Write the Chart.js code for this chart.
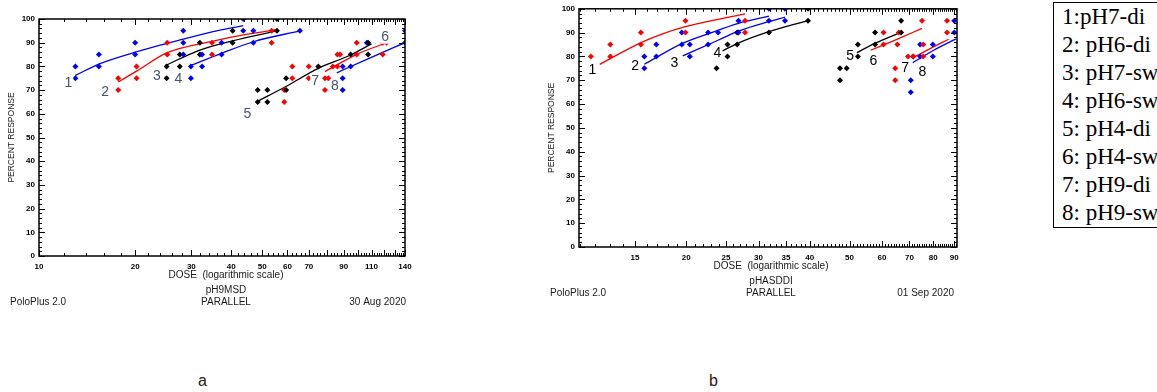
<!DOCTYPE html>
<html>
<head>
<meta charset="utf-8">
<script src="https://cdn.jsdelivr.net/npm/chart.js@4.4.1/dist/chart.umd.min.js"></script>
<style>
  body { margin: 0; background: #fff; width: 1157px; height: 392px; position: relative; overflow: hidden; }
  #chartA { position: absolute; left: 0; top: 0; }
  #chartB { position: absolute; left: 530px; top: 0; }
  .key { position: absolute; left: 1053px; top: 2px; width: 130px; border: 1px solid #000;
         padding: 0 0 0 8px; font: 23px/28px "Liberation Serif", "Times New Roman", serif; color: #000; white-space: nowrap; }
  .cap { position: absolute; top: 372px; font: 16px "Liberation Sans", Arial, sans-serif; color: #222; }
</style>
</head>
<body>
<canvas id="chartA" width="420" height="320"></canvas>
<canvas id="chartB" width="440" height="310"></canvas>
<div class="key">
  <div>1:pH7-di</div><div>2: pH6-di</div><div>3: pH7-sw</div><div>4: pH6-sw</div>
  <div>5: pH4-di</div><div>6: pH4-sw</div><div>7: pH9-di</div><div>8: pH9-sw</div>
</div>
<div class="cap" style="left:198px">a</div>
<div class="cap" style="left:709px">b</div>
<script>
const BLUE = '#0000ff', RED = '#ff0000', BLACK = '#000000';

// ---- panel a (pH9MSD): [dose, percent response] ----
const xTicksA = [10, 20, 30, 40, 50, 60, 70, 90, 110, 140];
const dotsA1 = [[13, 75], [13, 80], [15.4, 80], [15.4, 85], [20, 85], [20, 90], [28.3, 85], [28.3, 90], [28.3, 95], [43.6, 95], [43.6, 100]];
const dotsA2 = [[17.7, 70], [17.7, 75], [20.2, 75], [20.2, 80], [25.2, 85], [25.2, 90], [34.8, 85], [34.8, 90], [53.5, 90], [53.5, 95]];
const dotsA3 = [[25.1, 75], [25.1, 80], [27.6, 80], [27.6, 85], [31.9, 85], [31.9, 90], [40.4, 90], [40.4, 95], [55.6, 95], [55.6, 100]];
const dotsA4 = [[29.9, 75], [29.9, 80], [32.4, 80], [32.4, 85], [37.3, 85], [37.3, 90], [46.9, 90], [46.9, 95], [65.6, 95]];
const dotsA5 = [[48.4, 65], [48.4, 70], [51.9, 65], [51.9, 70], [59.4, 70], [59.4, 75], [74.9, 80], [94.6, 85], [107.3, 85], [107.3, 90]];
const dotsA67 = [[58.6, 65], [58.6, 70], [62.1, 75], [62.1, 80], [69.9, 75], [69.9, 80], [78.6, 70], [78.6, 75], [80.5, 75], [83.2, 80],
                 [86, 80], [86, 85], [87.6, 85], [98.8, 85], [98.8, 90], [119.2, 85], [119.2, 90], [122.6, 90]];
const dotsA8 = [[89.3, 70], [89.3, 75], [89.3, 80], [94.6, 80], [106.3, 90], [140, 90], [140, 95]];
const fitA1 = [[13, 76.2], [15.4, 81], [20, 86], [28.3, 91.5], [36, 95], [43.6, 97.2]];
const fitA2 = [[17.7, 73.4], [20.2, 78], [25.2, 85.8], [34.8, 90.6], [45, 93.6], [55.6, 95.5]];
const fitA3 = [[24.8, 80.3], [31.9, 86.9], [40.4, 90.8], [55.6, 95]];
const fitA4 = [[29.7, 80.3], [37.3, 85.5], [46.9, 90.4], [65.6, 95]];
const fitA5 = [[48.4, 65.3], [59.3, 71.5], [74.9, 79.2], [94.6, 84.8], [110, 89.5]];
const fitA67 = [[78.6, 77.8], [98.8, 85.1], [125, 90.4]];
const fitA8 = [[85.6, 77.3], [106.3, 83], [140, 90]];
const tagsA = [['1', 12.35, 73.1], ['2', 16.1, 69.2], ['3', 23.4, 75.7], ['4', 27.3, 74.8],
               ['5', 44.9, 59.8], ['6', 121.3, 92.5], ['7', 73.2, 73.8], ['8', 84.5, 71.7]];

// ---- panel b (pHASDDI) ----
const xTicksB = [15, 20, 25, 30, 35, 40, 50, 60, 70, 80, 90];
const dotsB1 = [[11.7, 80], [13.05, 80], [13.05, 85], [15.5, 85], [15.5, 90], [19.9, 90], [19.9, 95], [27.8, 90], [27.8, 95]];
const dotsB23 = [[15.8, 75], [15.8, 80], [16.9, 80], [16.9, 85], [19.5, 85], [19.5, 90], [20.4, 80], [20.4, 85], [22.6, 85], [22.6, 90],
                 [23.9, 90], [26.8, 90], [26.8, 95], [31.8, 95], [31.8, 100], [34.8, 95], [34.8, 100]];
const dotsB4 = [[23.7, 75], [25.2, 80], [25.2, 85], [26.6, 85], [26.6, 90], [31.8, 90], [39.6, 95], [39.6, 100]];
const dotsB5 = [[47.4, 70], [47.4, 75], [49.2, 75], [52.4, 80], [52.4, 85], [57.7, 85], [57.7, 90], [66.8, 90], [66.8, 95]];
const dotsB67 = [[60.5, 85], [60.5, 90], [64.6, 70], [64.6, 75], [65.4, 85], [65.9, 90], [69.4, 80], [71.4, 80], [75.1, 95],
                 [75.6, 80], [75.6, 85], [86.4, 90], [86.4, 95]];
const dotsB8 = [[70.5, 65], [70.5, 70], [71.5, 80], [74.3, 80], [74.3, 85], [79.8, 80], [79.8, 85], [90, 90], [90, 95]];
const fitB1 = [[12.3, 76.7], [15.5, 85.8], [17.5, 89.5], [19.9, 92.5], [27.8, 97.9]];
const fitB2 = [[15.8, 76.7], [19.5, 85.4], [22.6, 89.5], [26.8, 93.9], [31.8, 96.9]];
const fitB3 = [[19.6, 80.2], [23.9, 86.8], [26.8, 90.6], [31.8, 94.6], [34.8, 96.5]];
const fitB4 = [[24.5, 82.3], [26.6, 85.4], [31.8, 90.4], [39.6, 95]];
const fitB5 = [[52.1, 81.6], [57.8, 85.6], [66.4, 90]];
const fitB6 = [[56.3, 82.6], [65.2, 87.2], [75.1, 91.8]];
const fitB7 = [[71.6, 79.5], [79, 83.5], [87.2, 87.2]];
const fitB8 = [[71.3, 77.4], [80, 82.5], [90.9, 87.4]];
const tagsB = [['1', 11.8, 74.2], ['2', 15.0, 76], ['3', 18.7, 77.1], ['4', 23.8, 81.2],
               ['5', 50.2, 80.2], ['6', 57.2, 78.1], ['7', 68.3, 74.9], ['8', 75.3, 73.6]];

const SANS = '"Liberation Sans", Arial, sans-serif';

function pts(list) {
    return list.map(([x, y]) => ({ x: x, y: y }));
}

function dots(list, color) {
    return {
        type: 'scatter', data: pts(list), showLine: false,
        pointStyle: 'rectRot', pointRadius: 3, pointBackgroundColor: color, pointBorderWidth: 0
    };
}

function fit(list, color) {
    return {
        type: 'line', data: pts(list), borderColor: color, borderWidth: 1.3,
        pointRadius: 0, cubicInterpolationMode: 'monotone', fill: false
    };
}

// frame, inward tick marks, the PoloPlus captions and the curve numbers
const poloPlugin = {
    id: 'polo',
    afterDraw(chart, args, o) {
        const { ctx, chartArea: a, scales: { x, y } } = chart;
        ctx.save();
        ctx.strokeStyle = '#000';
        ctx.lineWidth = 1;
        ctx.beginPath();
        const xMark = (v, len) => {
            const p = Math.round(x.getPixelForValue(v)) + 0.5;
            ctx.moveTo(p, a.bottom); ctx.lineTo(p, a.bottom - len);
            ctx.moveTo(p, a.top); ctx.lineTo(p, a.top + len);
        };
        const yMark = (v, len) => {
            const p = Math.round(y.getPixelForValue(v)) + 0.5;
            ctx.moveTo(a.left, p); ctx.lineTo(a.left + len, p);
            ctx.moveTo(a.right, p); ctx.lineTo(a.right - len, p);
        };
        for (let v = o.minorFrom; v <= x.max; v += o.minorStep) xMark(v, 3);
        o.xMajor.forEach(v => xMark(v, 6));
        for (let v = 0; v <= 100; v += 2) yMark(v, v % 10 === 0 ? 6 : 3);
        ctx.stroke();
        ctx.lineWidth = 1.5;
        ctx.strokeRect(a.left, a.top, a.right - a.left, a.bottom - a.top);

        ctx.fillStyle = '#1a1a1a';
        ctx.textBaseline = 'middle';
        ctx.font = '10px ' + SANS;
        const cx = (a.left + a.right) / 2 + o.shift;
        ctx.textAlign = 'center';
        ctx.fillText('DOSE  (logarithmic scale)', cx, a.bottom + 19.5);
        ctx.fillText(o.name, cx, a.bottom + 34);
        ctx.fillText('PARALLEL', cx, a.bottom + 46);
        ctx.textAlign = 'left';
        ctx.fillText('PoloPlus 2.0', a.left - 29, a.bottom + 46);
        ctx.textAlign = 'right';
        ctx.fillText(o.date, a.right + o.dateDx, a.bottom + 46);

        ctx.save();
        ctx.translate(a.left - 27, (a.top + a.bottom) / 2);
        ctx.rotate(-Math.PI / 2);
        ctx.textAlign = 'center';
        ctx.font = '8.5px ' + SANS;
        ctx.fillText('PERCENT RESPONSE', 0, 0);
        ctx.restore();

        ctx.font = '14px ' + SANS;
        ctx.textAlign = 'center';
        o.tags.forEach(([t, dv, pv]) => {
            const px = x.getPixelForValue(dv), py = y.getPixelForValue(pv);
            const w = ctx.measureText(t).width;
            ctx.fillStyle = '#fff';
            ctx.fillRect(px - w / 2 - 1, py - 7, w + 2, 14);
            ctx.fillStyle = o.tagColor;
            ctx.fillText(t, px, py);
        });
        ctx.restore();
    }
};

function makeChart(id, datasets, xMin, xMax, xTicks, pad, yWidth, xHeight, polo) {
    return new Chart(document.getElementById(id), {
        type: 'scatter',
        data: { datasets: datasets },
        plugins: [poloPlugin],
        options: {
            responsive: false,
            animation: false,
            layout: { padding: pad },
            plugins: { legend: { display: false }, tooltip: { enabled: false }, polo: polo },
            scales: {
                x: {
                    type: 'logarithmic', min: xMin, max: xMax,
                    afterBuildTicks: axis => { axis.ticks = xTicks.map(v => ({ value: v })); },
                    afterFit: axis => { axis.height = xHeight; },
                    grid: { display: false, drawTicks: false },
                    border: { display: false },
                    ticks: {
                        autoSkip: false, maxRotation: 0, padding: 6, color: '#000',
                        font: { family: SANS, size: 8, weight: 'bold' },
                        callback: v => String(v)
                    }
                },
                y: {
                    min: 0, max: 100,
                    afterFit: axis => { axis.width = yWidth; },
                    grid: { display: false, drawTicks: false },
                    border: { display: false },
                    ticks: {
                        stepSize: 10, padding: 4, color: '#000',
                        font: { family: SANS, size: 8, weight: 'bold' }
                    }
                }
            }
        }
    });
}

makeChart('chartA', [
    dots(dotsA1, BLUE), dots(dotsA4, BLUE), dots(dotsA2, RED), dots(dotsA3, BLACK),
    dots(dotsA5, BLACK), dots(dotsA67, RED), dots(dotsA8, BLUE),
    fit(fitA1, BLUE), fit(fitA2, RED), fit(fitA3, BLACK), fit(fitA4, BLUE),
    fit(fitA5, BLACK), fit(fitA67, RED), fit(fitA8, BLUE)
], 10, 140, xTicksA, { top: 19, right: 15, left: 0, bottom: 0 }, 39, 64, {
    name: 'pH9MSD', date: '30 Aug 2020', shift: 4, dateDx: 1,
    minorFrom: 12, minorStep: 2, xMajor: [10, 20, 30, 40, 50, 60, 70, 80, 90, 100, 110, 120, 130, 140],
    tags: tagsA, tagColor: '#44546a'
});

makeChart('chartB', [
    dots(dotsB1, RED), dots(dotsB23, BLUE), dots(dotsB4, BLACK),
    dots(dotsB5, BLACK), dots(dotsB67, RED), dots(dotsB8, BLUE),
    fit(fitB1, RED), fit(fitB2, BLUE), fit(fitB3, BLUE), fit(fitB4, BLACK),
    fit(fitB5, BLACK), fit(fitB6, RED), fit(fitB7, RED), fit(fitB8, BLUE)
], 10.95, 91.4, xTicksB, { top: 8, right: 13, left: 0, bottom: 0 }, 49, 63, {
    name: 'pHASDDI', date: '01 Sep 2020', shift: 3, dateDx: -3,
    minorFrom: 11, minorStep: 1, xMajor: [15, 20, 25, 30, 35, 40, 50, 60, 70, 80, 90],
    tags: tagsB, tagColor: '#000'
});
</script>
</body>
</html>
